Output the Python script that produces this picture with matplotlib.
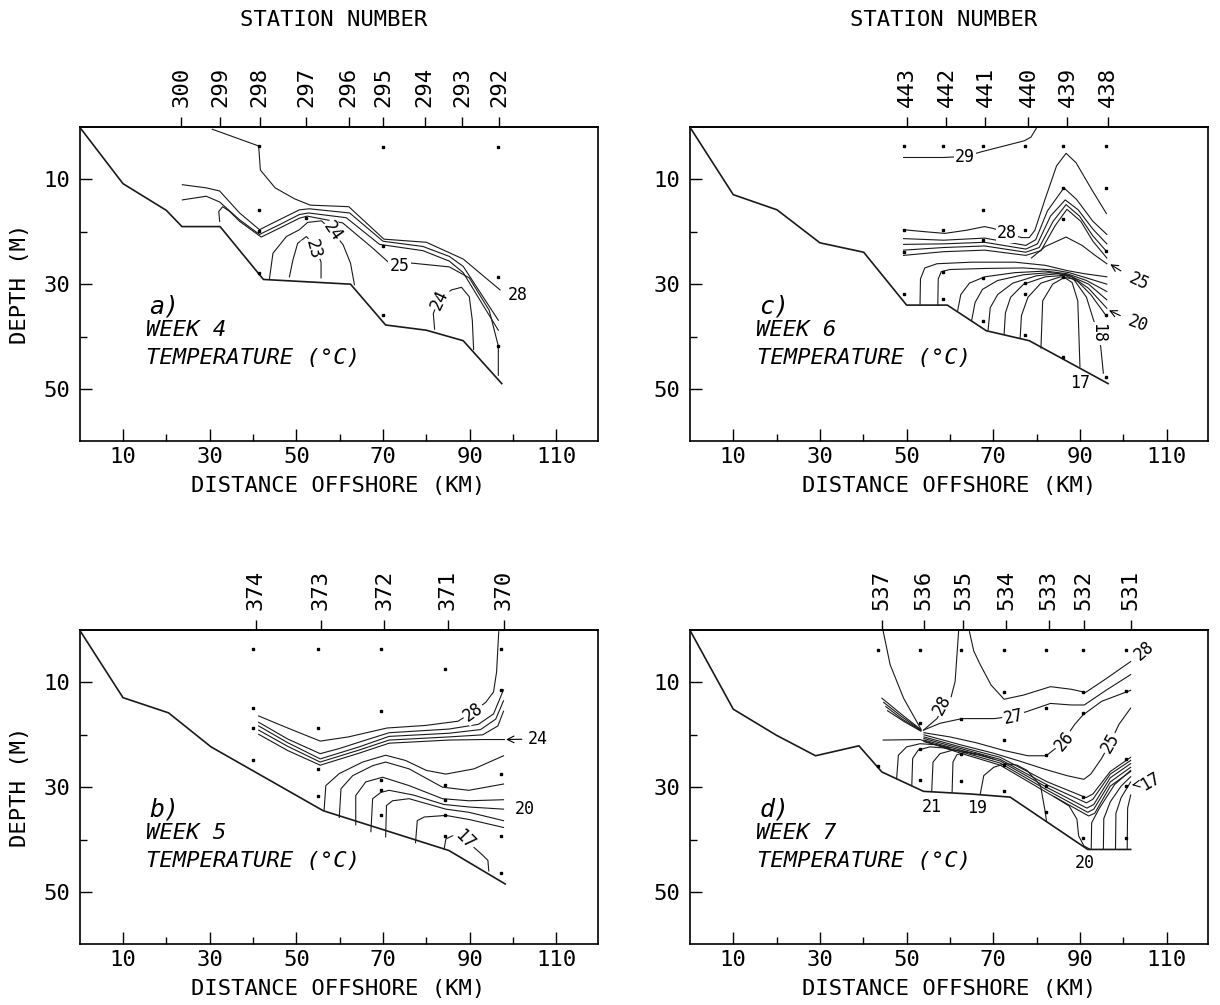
import matplotlib
matplotlib.use('Agg')
import matplotlib.pyplot as plt

plt.rcParams['font.family'] = ['DejaVu Sans Mono', 'DejaVu Sans']

# ---------------- panel a : week 4 ----------------
a_stations = ['300', '299', '298', '297', '296', '295', '294', '293', '292']
a_station_km = [23.4, 32.4, 41.5, 52.3, 62.1, 70.0, 79.6, 88.2, 96.8]
a_floor = [(0, 0), (10, 10.8), (20, 15.9), (23.6, 19.0), (32.4, 19.0), (42.4, 29.1),
           (62.5, 30.0), (70.6, 37.8), (80, 38.8), (88.5, 40.8), (97.4, 49.0)]
a_dots = [(41.3, 3.7), (70.0, 3.8), (96.6, 3.8), (41.3, 15.8), (41.3, 19.8), (52.3, 17.3),
          (41.3, 27.9), (70.0, 22.8), (70.0, 35.8), (96.6, 28.7), (96.6, 41.8)]
a_28 = [(30.6, 0.4), (41.3, 3.6), (41.7, 8.2), (45.1, 11.6), (49.6, 13.7), (53.2, 14.9),
        (62.1, 15.2), (70.2, 21.4), (80.0, 22.0), (88.5, 25.2), (97.0, 31.1)]
a_27 = [(23.7, 11.0), (29.2, 11.6), (32.3, 12.2), (36.9, 16.4), (41.5, 19.6), (44.6, 18.3),
        (50.7, 15.8), (53.0, 15.6), (62.3, 16.4), (70.0, 21.8), (79.2, 22.8), (85.3, 24.7),
        (88.5, 26.6), (96.6, 36.9)]
a_26 = [(23.7, 13.9), (29.2, 13.2), (32.3, 14.3), (36.9, 17.7), (41.5, 20.5), (46.2, 18.6),
        (50.7, 16.7), (52.8, 16.4), (61.5, 17.3), (69.2, 22.4), (79.2, 23.6), (85.3, 25.6),
        (88.5, 27.8), (96.6, 38.8)]
a_25 = [(32.3, 18.0), (32.1, 16.1), (33.0, 15.2), (34.6, 16.1), (36.9, 18.0), (41.9, 21.0),
        (46.1, 19.3), (50.7, 17.4), (52.5, 17.0), (60.7, 18.3), (67.6, 23.1), (71.1, 25.7),
        (76.9, 26.0), (85.3, 26.7), (89.9, 28.8), (94.5, 35.0), (96.6, 41.8), (96.6, 47.4)]
a_24 = [(43.8, 28.9), (44.6, 24.1), (47.7, 20.9), (50.7, 19.6), (52.6, 18.2), (55.8, 17.9),
        (58.5, 20.0), (60.8, 22.5), (62.5, 26.0), (63.4, 30.1)]
a_23 = [(48.4, 28.6), (49.2, 25.4), (50.3, 22.2), (52.3, 20.9), (54.2, 22.5), (55.7, 25.8),
        (55.7, 28.8)]
a_24b = [(81.9, 38.6), (81.6, 35.6), (83.0, 32.8), (85.8, 31.1), (88.1, 30.6), (89.9, 32.4),
         (90.6, 36.9), (90.9, 42.5)]
a_labels = [('25', 73.8, 26.5, 0), ('24', 58.4, 20.0, -55), ('23', 53.9, 23.3, -75),
            ('24', 83.1, 32.9, 65)]
a_end_labels = [('28', 101.0, 32.1, 0)]
a_arrows = []

# ---------------- panel b : week 5 ----------------
b_stations = ['374', '373', '372', '371', '370']
b_station_km = [40.6, 55.6, 70.3, 85.0, 97.8]
b_floor = [(0, 0), (10, 12.9), (20.5, 15.8), (30.3, 22.3), (56.2, 34.5), (85.2, 42.1),
           (98.2, 48.5)]
b_dots = [(40.1, 3.6), (40.1, 14.8), (40.1, 18.7), (40.1, 24.8),
          (55.0, 3.6), (55.0, 18.7), (55.0, 26.6), (55.0, 31.6),
          (69.6, 3.6), (69.6, 15.5), (69.6, 28.6), (69.6, 30.5), (69.6, 35.4),
          (84.2, 7.5), (84.2, 29.5), (84.2, 32.4), (84.2, 35.4), (84.2, 39.4),
          (97.3, 3.6), (97.3, 11.5), (97.3, 27.4), (97.3, 39.4), (97.3, 46.4)]
b_28 = [(41.3, 16.4), (48, 18.7), (55.5, 21.2), (62.0, 20.4), (70.9, 18.7), (79.9, 18.2),
        (87.3, 17.4), (90.8, 15.6), (93.7, 13.8), (95.5, 11.8), (96.2, 8.0), (96.7, 0.3)]
b_27 = [(41.3, 17.6), (48, 20.8), (55.5, 23.6), (60, 22.6), (64.5, 21.4), (71.4, 19.6),
        (85.2, 18.9), (92, 18.0), (95.5, 16.0), (97.8, 11.4)]
b_26 = [(41.3, 18.3), (48, 21.5), (55.5, 24.6), (64.5, 22.3), (71.4, 20.3), (85.2, 19.7),
        (92.5, 19.0), (96, 17.0), (97.8, 13.5)]
b_25 = [(41.3, 19.1), (48, 22.2), (55.5, 25.2), (64.5, 22.9), (71.4, 21.0), (85.2, 20.4),
        (93, 20.0), (96.5, 18.3), (97.8, 15.5)]
b_24 = [(41.3, 19.9), (48, 23.0), (55.5, 25.8), (64.5, 23.5), (71.4, 21.6), (85.2, 21.0),
        (93, 20.9), (98.0, 20.9)]
b_23 = [(56.4, 34.4), (56.8, 29.7), (59.9, 27.4), (65.3, 25.2), (70.6, 23.9), (75.2, 24.9),
        (80, 26.8), (84.5, 27.5), (91, 26.5), (97.8, 24.0)]
b_22 = [(59.9, 35.8), (60.3, 30.3), (63.0, 27.8), (67.6, 25.9), (70.6, 25.2), (76.0, 26.5),
        (83.7, 30.0), (89.8, 30.6), (97.8, 29.4)]
b_21 = [(63.7, 37.2), (63.7, 31.6), (66.0, 29.0), (69.9, 28.1), (76.0, 29.7), (83.7, 32.2),
        (89.8, 32.6), (97.8, 32.4)]
b_20 = [(67.2, 38.5), (67.6, 32.2), (69.5, 31.0), (71.4, 30.6), (77, 31.5), (84, 33.3),
        (90, 33.8), (97.8, 34.2)]
b_19 = [(70.6, 39.5), (70.8, 33.5), (72.2, 32.6), (76.0, 32.2), (84.5, 34.2), (89.8, 34.8),
        (97.8, 36.4)]
b_18 = [(77.5, 40.6), (77.9, 36.4), (79.5, 35.7), (84.5, 35.4), (90, 36.2), (97.8, 37.7)]
b_17 = [(84.1, 41.8), (84.5, 39.9), (86.0, 39.3), (88.8, 39.9), (93.0, 43.0), (94.2, 44.0),
        (94.4, 46.0)]
b_labels = [('28', 90.8, 15.6, 35), ('17', 88.9, 40.1, -45)]
b_end_labels = [('20', 102.6, 34.1, 0)]
b_arrows = [('24', 105.6, 20.8, 0, 98.4, 20.9)]

# ---------------- panel c : week 6 ----------------
c_stations = ['443', '442', '441', '440', '439', '438']
c_station_km = [50.0, 59.2, 68.2, 78.1, 87.1, 96.5]
c_floor = [(0, 0), (10, 12.9), (20.1, 15.8), (30.0, 22.1), (40.1, 23.9), (50.0, 34.0),
           (59.4, 34.0), (68.4, 38.9), (78.3, 40.8), (96.5, 49.0)]
c_dots = [(49.3, 3.7), (49.3, 19.7), (49.3, 23.9), (49.3, 31.9),
          (58.5, 3.7), (58.5, 19.7), (58.5, 27.7), (58.5, 32.8),
          (67.7, 3.7), (67.7, 15.8), (67.7, 21.6), (67.7, 28.8), (67.7, 37.0),
          (77.4, 3.7), (77.4, 19.7), (77.4, 29.7), (77.4, 31.8), (77.4, 39.7),
          (86.2, 3.7), (86.2, 11.7), (86.2, 17.6), (86.2, 28.7), (86.2, 43.9),
          (96.1, 3.7), (96.1, 11.7), (96.1, 23.7), (96.1, 35.8), (96.1, 47.8)]
c_29 = [(49.3, 5.8), (58.5, 5.8), (63.5, 5.6), (67.3, 4.7), (77.2, 2.6), (78.7, 1.9),
        (80.1, 0.0)]
c_28 = [(49.3, 19.6), (54.5, 20.0), (58.8, 20.3), (63.8, 19.7), (68.0, 19.0), (70.2, 19.4),
        (73.1, 20.3), (76.5, 21.1), (78.3, 21.1), (79.6, 19.7), (81.9, 13.9), (84.6, 7.4),
        (86.8, 5.0), (89.1, 6.8), (92.7, 11.9), (96.1, 16.5)]
c_27 = [(49.3, 21.3), (58.5, 21.6), (68.0, 21.2), (77.5, 22.6), (79.8, 21.5), (82.5, 16.0),
        (86.3, 11.6), (89.2, 13.8), (93, 18.0), (96.2, 20.5)]
c_26 = [(49.3, 22.4), (58.5, 22.3), (68.0, 22.0), (77.5, 23.3), (80.2, 22.3), (83.2, 17.0),
        (86.6, 13.9), (89.6, 15.8), (93, 19.5), (96.2, 22.3)]
c_26b = [(49.3, 23.5), (58.5, 23.0), (68.0, 22.7), (77.5, 23.9), (80.6, 23.0), (83.8, 18.0),
         (86.8, 14.8), (89.9, 17.0), (93, 20.8), (96.2, 23.8)]
c_26c = [(49.3, 24.5), (58.5, 23.8), (68.0, 23.5), (77.5, 24.5), (81.0, 23.6), (84.3, 18.8),
         (87.0, 15.7), (90.2, 18.0), (93, 21.8), (96.2, 25.0)]
c_25 = [(78.8, 25.0), (82.0, 22.8), (86.8, 21.0), (90.5, 22.6), (93.5, 24.5), (96.2, 26.1)]
c_24 = [(53.1, 33.8), (53.2, 29.0), (54.2, 26.9), (57, 26.1), (65, 25.8), (75, 25.8),
        (82, 26.4), (87, 27.4), (91, 28.0), (96.2, 28.6)]
c_23 = [(57.2, 34.0), (57.3, 29.0), (58.0, 27.6), (60, 27.2), (68, 27.0), (77, 26.9),
        (84, 27.3), (87.5, 27.8), (91.5, 28.8), (96.2, 30.0)]
c_22 = [(61.8, 35.0), (62.5, 32.0), (64.5, 29.8), (68, 28.6), (75, 27.8), (82, 27.5),
        (87, 28.0), (91.5, 29.3), (96.2, 31.4)]
c_21 = [(65.0, 37.0), (65.8, 33.5), (67.5, 31.0), (71, 29.3), (77, 28.2), (83, 27.8),
        (87, 28.2), (92, 30.0), (96.2, 33.0)]
c_20 = [(68.8, 38.8), (69.3, 34.5), (71, 32.0), (74.5, 29.8), (80, 28.4), (85, 28.0),
        (88, 28.5), (92, 30.8), (96.2, 34.6)]
c_19 = [(72.5, 39.6), (72.8, 35.5), (74, 32.5), (77, 30.0), (82, 28.6), (86.5, 28.3),
        (89.5, 29.5), (92.5, 32.0), (96.2, 36.2)]
c_18 = [(76.2, 40.3), (76.5, 36.0), (78, 32.5), (81, 29.8), (85.5, 28.6), (88.5, 29.0),
        (91.5, 32.5), (93.0, 36.5), (94.1, 39.2), (94.8, 42.0), (95.4, 47.0)]
c_17 = [(81.0, 42.2), (81.4, 33.2), (83.7, 30.0), (86.4, 28.7), (88.2, 29.7), (89.5, 33.2),
        (90.0, 45.8)]
c_labels = [('29', 63.5, 5.7, 0), ('28', 73.1, 20.2, 0), ('18', 94.1, 39.4, -90)]
c_end_labels = [('17', 90.0, 48.8, 0)]
c_arrows = [('25', 103.6, 29.6, -25, 97.0, 26.2), ('20', 103.4, 37.6, -20, 96.7, 35.0)]

# ---------------- panel d : week 7 ----------------
d_stations = ['537', '536', '535', '534', '533', '532', '531']
d_station_km = [44.3, 53.9, 63.1, 73.0, 82.8, 90.9, 101.7]
d_floor = [(0, 0), (10, 15.1), (20, 20.1), (29.0, 24.0), (39.0, 22.1), (44.3, 27.1),
           (53.9, 30.8), (64.7, 31.3), (73.9, 31.9), (91.8, 41.9), (101.7, 41.9)]
d_dots = [(43.5, 3.7), (53.0, 3.7), (62.6, 3.7), (72.5, 3.7), (82.2, 3.7), (90.7, 3.7),
          (100.6, 3.7), (72.5, 11.9), (90.7, 11.9), (100.6, 11.7), (82.2, 14.8),
          (90.7, 15.8), (53.0, 17.8), (62.6, 16.9), (72.5, 20.9), (53.0, 22.8), (62.6, 23.7),
          (43.5, 26.0), (72.5, 25.8), (82.2, 23.8), (53.0, 28.7), (62.6, 28.9), (72.5, 30.8),
          (82.2, 29.7), (82.2, 34.8), (90.7, 31.9), (90.7, 39.8), (100.6, 24.7),
          (100.6, 29.7), (100.6, 39.8)]
d_29 = [(44.6, 0.2), (46.2, 6.6), (49.3, 13.0), (53.3, 18.9)]
d_28 = [(62.0, 0.2), (61.2, 9.8), (60.1, 13.3), (58.5, 14.8), (57.0, 16.9), (53.9, 19.1)]
d_27a = [(44.3, 13.0), (49.0, 16.2), (53.3, 19.0)]
d_27b = [(44.7, 13.8), (49.0, 16.6), (53.3, 19.1)]
d_27c = [(45.2, 14.6), (49.0, 17.0), (53.3, 19.2)]
d_27d = [(45.6, 15.4), (49.3, 17.4), (53.3, 19.3)]
d_27 = [(53.9, 19.1), (57.7, 17.8), (62.8, 16.9), (70.3, 16.9), (74.7, 16.4), (78.3, 15.4),
        (83.2, 14.0), (88, 14.3), (91, 14.3), (96, 11.5), (101.7, 8.5)]
d_28r = [(64.5, 0.3), (65.5, 4.0), (67.0, 6.6), (69.5, 10.5), (72.5, 13.2), (77, 12.4),
         (83.2, 10.8), (88, 11.3), (91.3, 11.9), (96, 9.3), (101.7, 6.0)]
d_26 = [(54.0, 19.6), (60, 20.4), (66, 21.5), (72.5, 23.0), (78, 24.0), (82.2, 24.0),
        (84.5, 22.5), (86.3, 21.0), (88.8, 18.0), (90.7, 16.2), (95, 13.6), (101.7, 11.5)]
d_25 = [(54.0, 20.0), (62.4, 21.9), (70, 23.5), (76, 25.0), (82, 26.6), (87, 27.8),
        (90.9, 28.5), (92.5, 27.5), (95, 24.5), (97, 21.5), (99, 18.0), (101.7, 14.9)]
d_24 = [(54, 20.4), (62.4, 22.3), (71.6, 24.3), (82.5, 29.0), (91.4, 32.0), (93.0, 31.3),
        (97, 27.0), (101.7, 24.3)]
d_23 = [(54, 20.7), (62.4, 22.6), (71.6, 24.7), (82.5, 29.6), (91.5, 33.0), (93.0, 32.3),
        (97, 27.5), (101.7, 24.9)]
d_22 = [(54, 21.0), (62.4, 22.9), (71.6, 25.0), (82.5, 30.1), (91.6, 34.0), (93.2, 33.3),
        (97, 28.2), (101.7, 25.5)]
d_21 = [(54, 21.3), (62.4, 23.2), (71.6, 25.4), (82.5, 30.6), (91.8, 34.8), (93.2, 34.2),
        (97, 29.0), (101.7, 26.2)]
d_21b = [(44.6, 21.0), (53.1, 20.9), (62.4, 23.5), (71.6, 25.8), (82.5, 31.1), (92.0, 35.5),
         (93.4, 35.0), (97, 29.8), (101.7, 27.0)]
d_arc1 = [(47.7, 28.4), (48.1, 23.9), (50.0, 22.3), (53.1, 21.7), (57, 21.9), (60, 22.5)]
d_arc2 = [(51.2, 29.7), (51.4, 24.5), (52.7, 22.9), (55.4, 22.3), (58.5, 22.5), (61, 23.0)]
d_arc3 = [(55.8, 30.7), (56.1, 25.2), (57.7, 23.6), (60.8, 22.9), (63.5, 23.2), (66, 23.8)]
d_arc4 = [(60.5, 30.9), (60.7, 25.2), (61.6, 23.8), (63.9, 23.3), (67, 23.8), (70, 24.6)]
d_19 = [(67.0, 31.3), (67.8, 27.8), (70.1, 26.2), (72.8, 25.5), (75.5, 25.8), (77.8, 26.8),
        (80.9, 29.7), (82.0, 34.8), (82.3, 36.6)]
d_20 = [(84.0, 31.8), (87.5, 33.6), (89.3, 36.1), (89.7, 39.3), (90.9, 41.2), (92.4, 41.9)]
d_v1 = [(92.6, 41.9), (92.7, 36.8), (94.5, 34.0), (98, 29.5), (101.7, 26.8)]
d_v2 = [(95.4, 41.9), (95.5, 36.0), (97, 32.8), (99.5, 29.8), (101.7, 28.0)]
d_v3 = [(98.2, 41.9), (98.3, 35.0), (99.5, 32.0), (101.7, 29.0)]
d_v4 = [(100.9, 41.9), (101.0, 34.0), (101.7, 31.5)]
d_labels = [('28', 58.1, 14.3, 62), ('27', 74.7, 16.6, 12), ('26', 86.4, 21.2, 50),
            ('25', 97.0, 21.6, 60)]
d_end_labels = [('28', 104.8, 3.9, 40), ('21', 55.7, 33.7, 0), ('19', 66.3, 33.9, 0),
                ('20', 91.1, 44.4, 0)]
d_arrows = [('17', 106.1, 29.0, 30, 102.0, 29.6)]


def xy(pts):
    return [p[0] for p in pts], [p[1] for p in pts]


def draw_panel(ax, floor, lines, dots, st_km, st_names, tag, week,
               labels, end_labels, arrows, left_col, top_row):
    x, y = xy(floor)
    ax.plot(x, y, color='#1a1a1a', lw=1.2, zorder=3)
    for ln in lines:
        x, y = xy(ln)
        ax.plot(x, y, color='#1a1a1a', lw=0.8, zorder=2)
    x, y = xy(dots)
    ax.plot(x, y, 's', ms=1.9, color='k', zorder=4)

    for s, lx, ly, rot in labels:
        ax.text(lx, ly, s, fontsize=12, rotation=rot, ha='center', va='center',
                rotation_mode='anchor', zorder=5,
                bbox=dict(facecolor='white', edgecolor='none', pad=0.8))
    for s, lx, ly, rot in end_labels:
        ax.text(lx, ly, s, fontsize=12, rotation=rot, ha='center', va='center',
                rotation_mode='anchor', zorder=5)
    for s, lx, ly, rot, tx, ty in arrows:
        ax.annotate(s, xy=(tx, ty), xytext=(lx, ly), fontsize=12, rotation=rot,
                    ha='center', va='center', zorder=5,
                    arrowprops=dict(arrowstyle='->', lw=0.8, color='k',
                                    shrinkA=2, shrinkB=0))

    ax.text(16.0, 34.3, tag + ')', style='italic', fontsize=18, ha='left', va='center')
    ax.text(15.2, 38.8, week, style='italic', fontsize=16, ha='left', va='center')
    ax.text(15.4, 44.2, 'TEMPERATURE (°C)', style='italic', fontsize=16,
            ha='left', va='center')

    ax.set_xlim(0, 119.5)
    ax.set_ylim(60, 0)
    ax.set_xticks([10, 30, 50, 70, 90, 110])
    ax.set_xticks([20, 40, 60, 80, 100], minor=True)
    ax.set_yticks([10, 30, 50])
    ax.set_yticks([20, 40], minor=True)
    ax.tick_params(which='major', direction='in', length=8.5, width=1.0,
                   labelsize=16, top=False, right=False)
    ax.tick_params(which='minor', direction='in', length=5, width=1.0,
                   top=False, right=False)
    ax.tick_params(axis='x', pad=4)
    ax.tick_params(axis='y', pad=7)
    for sp in ax.spines.values():
        sp.set_linewidth(1.2)

    sec = ax.secondary_xaxis('top')
    sec.set_xticks(st_km)
    sec.set_xticklabels(st_names, rotation=90)
    sec.tick_params(direction='out', length=7.5, width=1.0, labelsize=16, pad=7)
    sec.spines['top'].set_linewidth(1.2)

    ax.text(0.5, -0.143, 'DISTANCE OFFSHORE (KM)', transform=ax.transAxes,
            fontsize=16, ha='center', va='center')
    if left_col:
        ax.text(-0.115, 0.5, 'DEPTH (M)', transform=ax.transAxes, rotation=90,
                fontsize=16, ha='center', va='center')
    if top_row:
        ax.text(0.49, 1.34, 'STATION NUMBER', transform=ax.transAxes,
                fontsize=16, ha='center', va='center')


fig = plt.figure(figsize=(12.2, 10.05), dpi=100)
ax_a = fig.add_axes([0.0653, 0.561, 0.4245, 0.3125])
ax_c = fig.add_axes([0.5655, 0.561, 0.4245, 0.3125])
ax_b = fig.add_axes([0.0653, 0.0605, 0.4245, 0.3125])
ax_d = fig.add_axes([0.5655, 0.0605, 0.4245, 0.3125])

draw_panel(ax_a, a_floor, [a_28, a_27, a_26, a_25, a_24, a_23, a_24b], a_dots,
           a_station_km, a_stations, 'a', 'WEEK 4', a_labels, a_end_labels, a_arrows,
           True, True)
draw_panel(ax_b, b_floor, [b_28, b_27, b_26, b_25, b_24, b_23, b_22, b_21, b_20, b_19,
                           b_18, b_17], b_dots,
           b_station_km, b_stations, 'b', 'WEEK 5', b_labels, b_end_labels, b_arrows,
           True, False)
draw_panel(ax_c, c_floor, [c_29, c_28, c_27, c_26, c_26b, c_26c, c_25, c_24, c_23, c_22,
                           c_21, c_20, c_19, c_18, c_17], c_dots,
           c_station_km, c_stations, 'c', 'WEEK 6', c_labels, c_end_labels, c_arrows,
           False, True)
draw_panel(ax_d, d_floor, [d_29, d_28, d_27a, d_27b, d_27c, d_27d, d_27, d_28r, d_26,
                           d_25, d_24, d_23, d_22, d_21, d_21b, d_arc1, d_arc2, d_arc3,
                           d_arc4, d_19, d_20, d_v1, d_v2, d_v3, d_v4], d_dots,
           d_station_km, d_stations, 'd', 'WEEK 7', d_labels, d_end_labels, d_arrows,
           False, False)

fig.savefig('out.png', dpi=100, facecolor='white')
